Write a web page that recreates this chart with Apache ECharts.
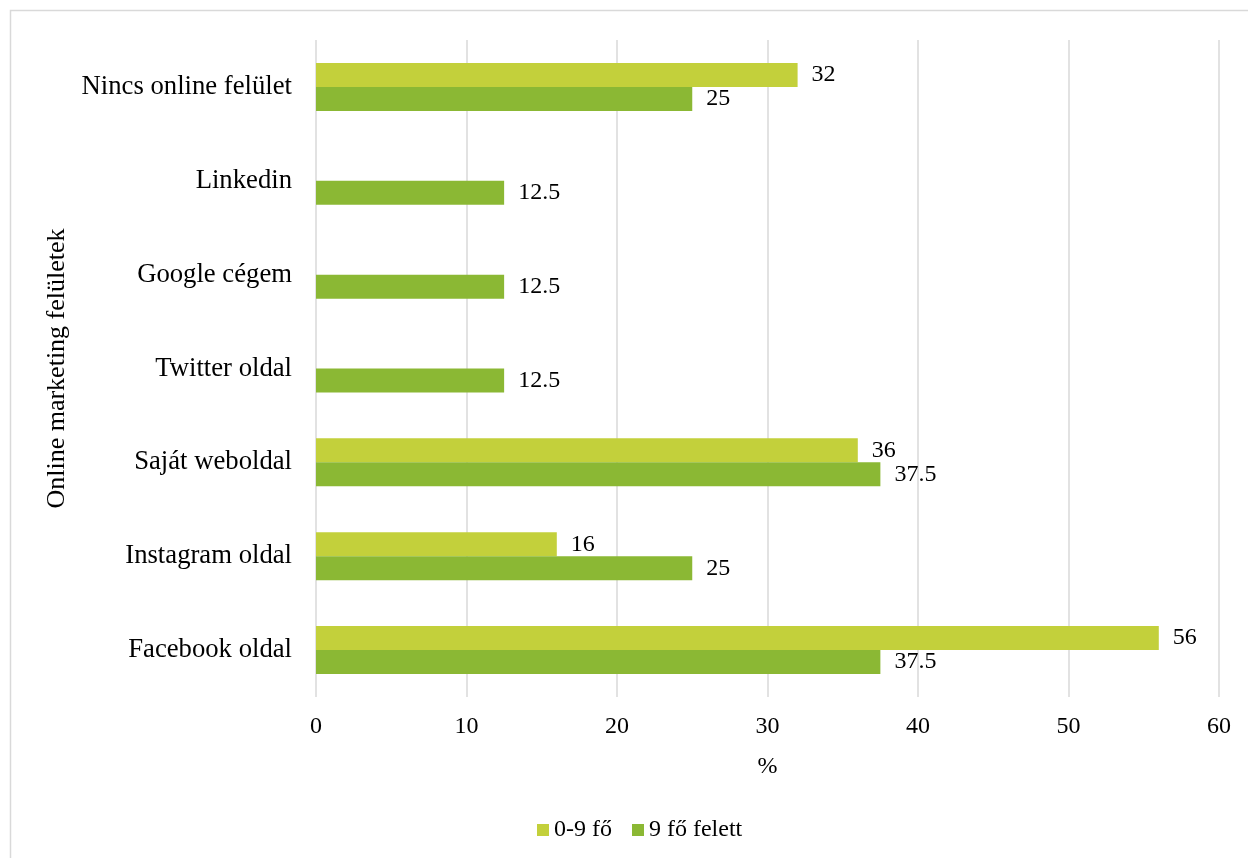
<!DOCTYPE html>
<html>
<head>
<meta charset="utf-8">
<script src="https://cdn.jsdelivr.net/npm/echarts@6/dist/echarts.min.js"></script>
<style>
  html, body { margin: 0; padding: 0; background: #fff; }
  #chart { width: 1248px; height: 858px; }
</style>
</head>
<body>
<div id="chart"></div>
<script>
// Categories listed bottom-to-top (category axis starts at the bottom)
const categories = ['Facebook oldal', 'Instagram oldal', 'Saját weboldal', 'Twitter oldal', 'Google cégem', 'Linkedin', 'Nincs online felület'];
const seriesNames = ['0-9 fő', '9 fő felett'];
const small = [56, 16, 36, null, null, null, 32];      // 0-9 fő
const large = [37.5, 25, 37.5, 12.5, 12.5, 12.5, 25];  // 9 fő felett
const xTicks = { min: 0, max: 60, interval: 10 };
const xName = '%';
const yName = 'Online marketing felületek';

const FONT = '"Liberation Serif", "Times New Roman", serif';
const chart = echarts.init(document.getElementById('chart'), null, { renderer: 'canvas' });

const labelStyle = {
  show: true,
  position: 'right',
  distance: 14,
  color: '#000',
  fontFamily: FONT,
  fontSize: 24,
  formatter: p => (p.value == null ? '' : String(p.value))
};

chart.setOption({
  backgroundColor: '#fff',
  animation: false,
  graphic: [{
    type: 'rect',
    shape: { x: 10.5, y: 10.5, width: 1260, height: 870 },
    style: { fill: 'none', stroke: '#d9d9d9', lineWidth: 1.5 },
    silent: true,
    z: -10
  }],
  grid: { left: 316, right: 29, top: 40, bottom: 161, containLabel: false },
  legend: {
    data: seriesNames,
    bottom: 11,
    left: 532,
    itemWidth: 12,
    itemHeight: 12,
    itemGap: 20,
    icon: 'rect',
    textStyle: { fontFamily: FONT, fontSize: 24, color: '#000' }
  },
  xAxis: {
    type: 'value',
    min: xTicks.min,
    max: xTicks.max,
    interval: xTicks.interval,
    name: xName,
    nameLocation: 'middle',
    nameGap: 58,
    nameTextStyle: { fontFamily: FONT, fontSize: 24, color: '#000' },
    axisLine: { show: false },
    axisTick: { show: false },
    axisLabel: { fontFamily: FONT, fontSize: 24, color: '#000', margin: 18 },
    splitLine: { show: true, lineStyle: { color: '#d9d9d9', width: 1.5 } }
  },
  yAxis: {
    type: 'category',
    data: categories,
    name: yName,
    nameLocation: 'middle',
    nameGap: 234,
    nameRotate: 90,
    nameTextStyle: { fontFamily: FONT, fontSize: 26, color: '#000' },
    axisLine: { show: false },
    axisTick: { show: false },
    axisLabel: { fontFamily: FONT, fontSize: 26.7, color: '#000', margin: 24 },
    splitLine: { show: false }
  },
  series: [
    {
      // first series occupies the upper half of each category band
      name: seriesNames[0],
      type: 'bar',
      data: small,
      barWidth: 24,
      barGap: '0%',
      itemStyle: { color: '#c3d03b' },
      label: labelStyle
    },
    {
      name: seriesNames[1],
      type: 'bar',
      data: large,
      barWidth: 24,
      barGap: '0%',
      itemStyle: { color: '#8bb834' },
      label: labelStyle
    }
  ]
});
</script>
</body>
</html>
